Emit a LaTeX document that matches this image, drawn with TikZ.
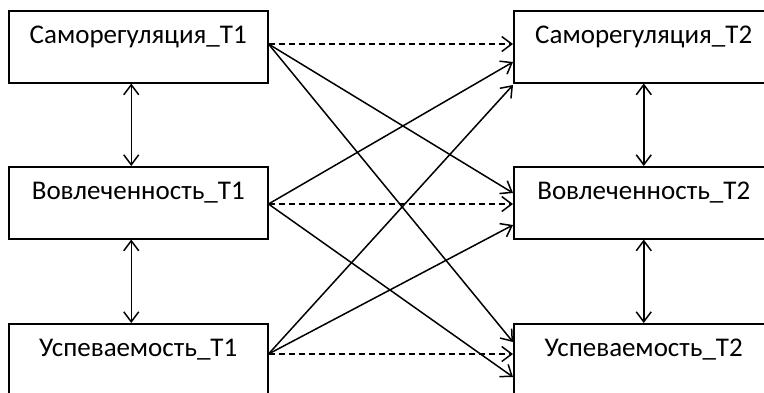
\documentclass[tikz,border=0pt]{standalone}
\usepackage{fontspec}
\setmainfont{Carlito}
\usetikzlibrary{arrows.meta,calc}
\tikzset{
  varbox/.style={draw, line width=1.5pt, inner sep=0pt, minimum width=259pt,
    text height=33pt, text depth=39pt, font=\fontsize{27pt}{32pt}\selectfont, anchor=north west},
  conn/.style={line width=1.5pt, -{Straight Barb[length=10pt,width=15pt,line width=1.5pt]}},
  dconn/.style={conn, dash pattern=on 6pt off 4pt},
  corr/.style={line width=1.5pt, {Straight Barb[length=10pt,width=15pt,line width=1.5pt]}-{Straight Barb[length=10pt,width=15pt,line width=1.5pt]}}
}
\begin{document}
\begin{tikzpicture}[x=1pt,y=-1pt]
\useasboundingbox (0,0) rectangle (764,392);
\node[varbox] (l1) at (8,10) {Саморегуляция\_T1};
\node[varbox] (l2) at (8,166) {Вовлеченность\_T1};
\node[varbox] (l3) at (8,323) {Успеваемость\_T1};
\node[varbox, minimum width=260pt] (r1) at (513,10) {Саморегуляция\_T2};
\node[varbox, minimum width=260pt] (r2) at (513,166) {Вовлеченность\_T2};
\node[varbox, minimum width=260pt] (r3) at (513,323) {Успеваемость\_T2};
% start points
\coordinate (s1) at ($(l1.north east)+(0,34)$);
\coordinate (s2) at ($(l2.north east)+(0,38)$);
\coordinate (s3) at ($(l3.north east)+(0,31)$);
% end points
\coordinate (e1a) at ($(r1.north west)+(0,34)$);
\coordinate (e1b) at ($(r1.north west)+(0,52)$);
\coordinate (e1c) at ($(r1.north west)+(0,75)$);
\coordinate (e2a) at ($(r2.north west)+(0,27)$);
\coordinate (e2b) at ($(r2.north west)+(0,38)$);
\coordinate (e2c) at ($(r2.north west)+(0,59)$);
\coordinate (e3a) at ($(r3.north west)+(0,19)$);
\coordinate (e3b) at ($(r3.north west)+(0,31)$);
\coordinate (e3c) at ($(r3.north west)+(0,54)$);
\draw[dconn] (s1) -- (e1a);
\draw[dconn] (s2) -- (e2b);
\draw[dconn] (s3) -- (e3b);
\draw[conn] (s1) -- (e2a);
\draw[conn] (s1) -- (e3a);
\draw[conn] (s2) -- (e1b);
\draw[conn] (s2) -- (e3c);
\draw[conn] (s3) -- (e1c);
\draw[conn] (s3) -- (e2c);
% correlations
\draw[corr] ($(l1.south)+(-7,0)$) -- ($(l2.north)+(-7,0)$);
\draw[corr] ($(l2.south)+(-7,0)$) -- ($(l3.north)+(-7,0)$);
\draw[corr] (r1.south) -- (r2.north);
\draw[corr] (r2.south) -- (r3.north);
\end{tikzpicture}
\end{document}
